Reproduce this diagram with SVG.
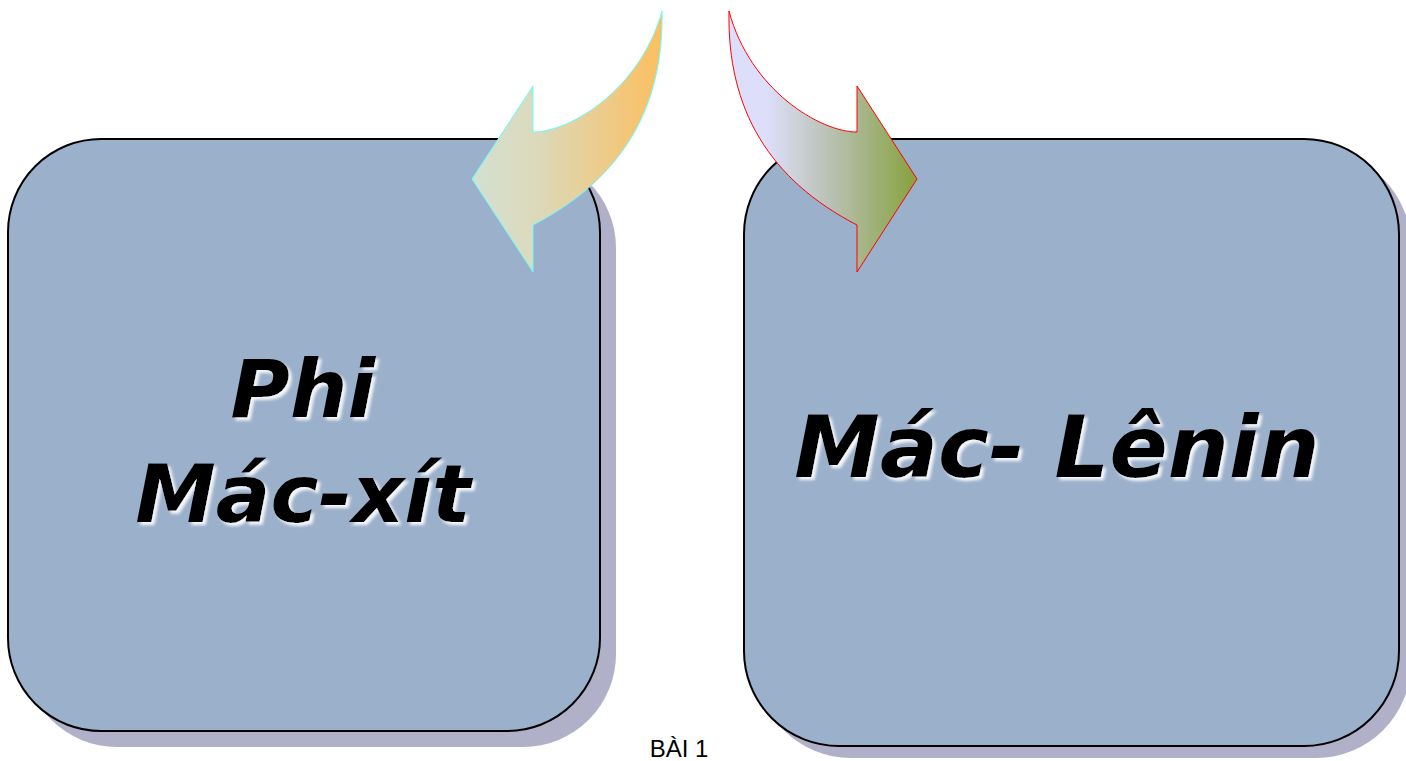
<svg xmlns="http://www.w3.org/2000/svg" width="1406" height="761" viewBox="0 0 1406 761">
<defs>
<style>
.shadow{fill:#B0B0C9;}
.box{fill:#9BB0CB;stroke:#000;stroke-width:2;}
.big{font-family:"DejaVu Sans","Verdana",sans-serif;font-weight:bold;font-style:italic;fill:#000;text-anchor:middle;}
.cap{font-family:"Liberation Sans",Arial,sans-serif;font-size:24px;fill:#000;text-anchor:middle;}
</style>
<linearGradient id="gL" x1="0" y1="0" x2="1" y2="0">
<stop offset="0" stop-color="#D3E0D1"/>
<stop offset="0.35" stop-color="#DCD9BA"/>
<stop offset="1" stop-color="#FCBF5F"/>
</linearGradient>
<linearGradient id="gR" x1="0" y1="0" x2="1" y2="0">
<stop offset="0" stop-color="#DDDFFA"/>
<stop offset="0.2" stop-color="#DDDFFA"/>
<stop offset="0.55" stop-color="#B8C0B2"/>
<stop offset="1" stop-color="#86A23C"/>
</linearGradient>
<filter id="glow" x="-10%" y="-20%" width="120%" height="140%">
<feGaussianBlur in="SourceAlpha" stdDeviation="1.5" result="b"/>
<feOffset in="b" dx="3" dy="3" result="o"/>
<feFlood flood-color="#FFFFFF" flood-opacity="0.9"/>
<feComposite in2="o" operator="in" result="s"/>
<feMerge><feMergeNode in="s"/><feMergeNode in="SourceGraphic"/></feMerge>
</filter>
</defs>
<rect width="1406" height="761" fill="#FFFFFF"/>
<g id="node-left">
<rect class="shadow" x="24" y="155" width="592" height="592" rx="93" ry="93"/>
<rect class="box" x="8" y="139" width="592" height="592" rx="93" ry="93"/>
<text class="big" filter="url(#glow)" font-size="81" x="303" y="417">Phi</text>
<text class="big" filter="url(#glow)" font-size="81" x="303" y="522">Mác-xít</text>
</g>
<g id="node-right">
<rect class="shadow" x="756" y="151" width="655" height="607" rx="95" ry="95"/>
<rect class="box" x="744" y="139" width="655" height="607" rx="95" ry="95"/>
<text class="big" filter="url(#glow)" font-size="86" x="1057" y="477">Mác- Lênin</text>
</g>
<g id="connectors">
<path d="M662,11 C664,110 620,180 533,225 L533,272 L472,179 L533,86 L533,132 C570,132 640,90 662,11 Z" fill="url(#gL)" stroke="#66FFFF" stroke-width="1"/>
<path d="M729,11 C727,110 770,180 857,225 L857,272 L917,179 L857,86 L857,132 C820,132 750,90 729,11 Z" fill="url(#gR)" stroke="#FF0000" stroke-width="1"/>
</g>
<text class="cap" x="679" y="757">BÀI 1</text>
</svg>
